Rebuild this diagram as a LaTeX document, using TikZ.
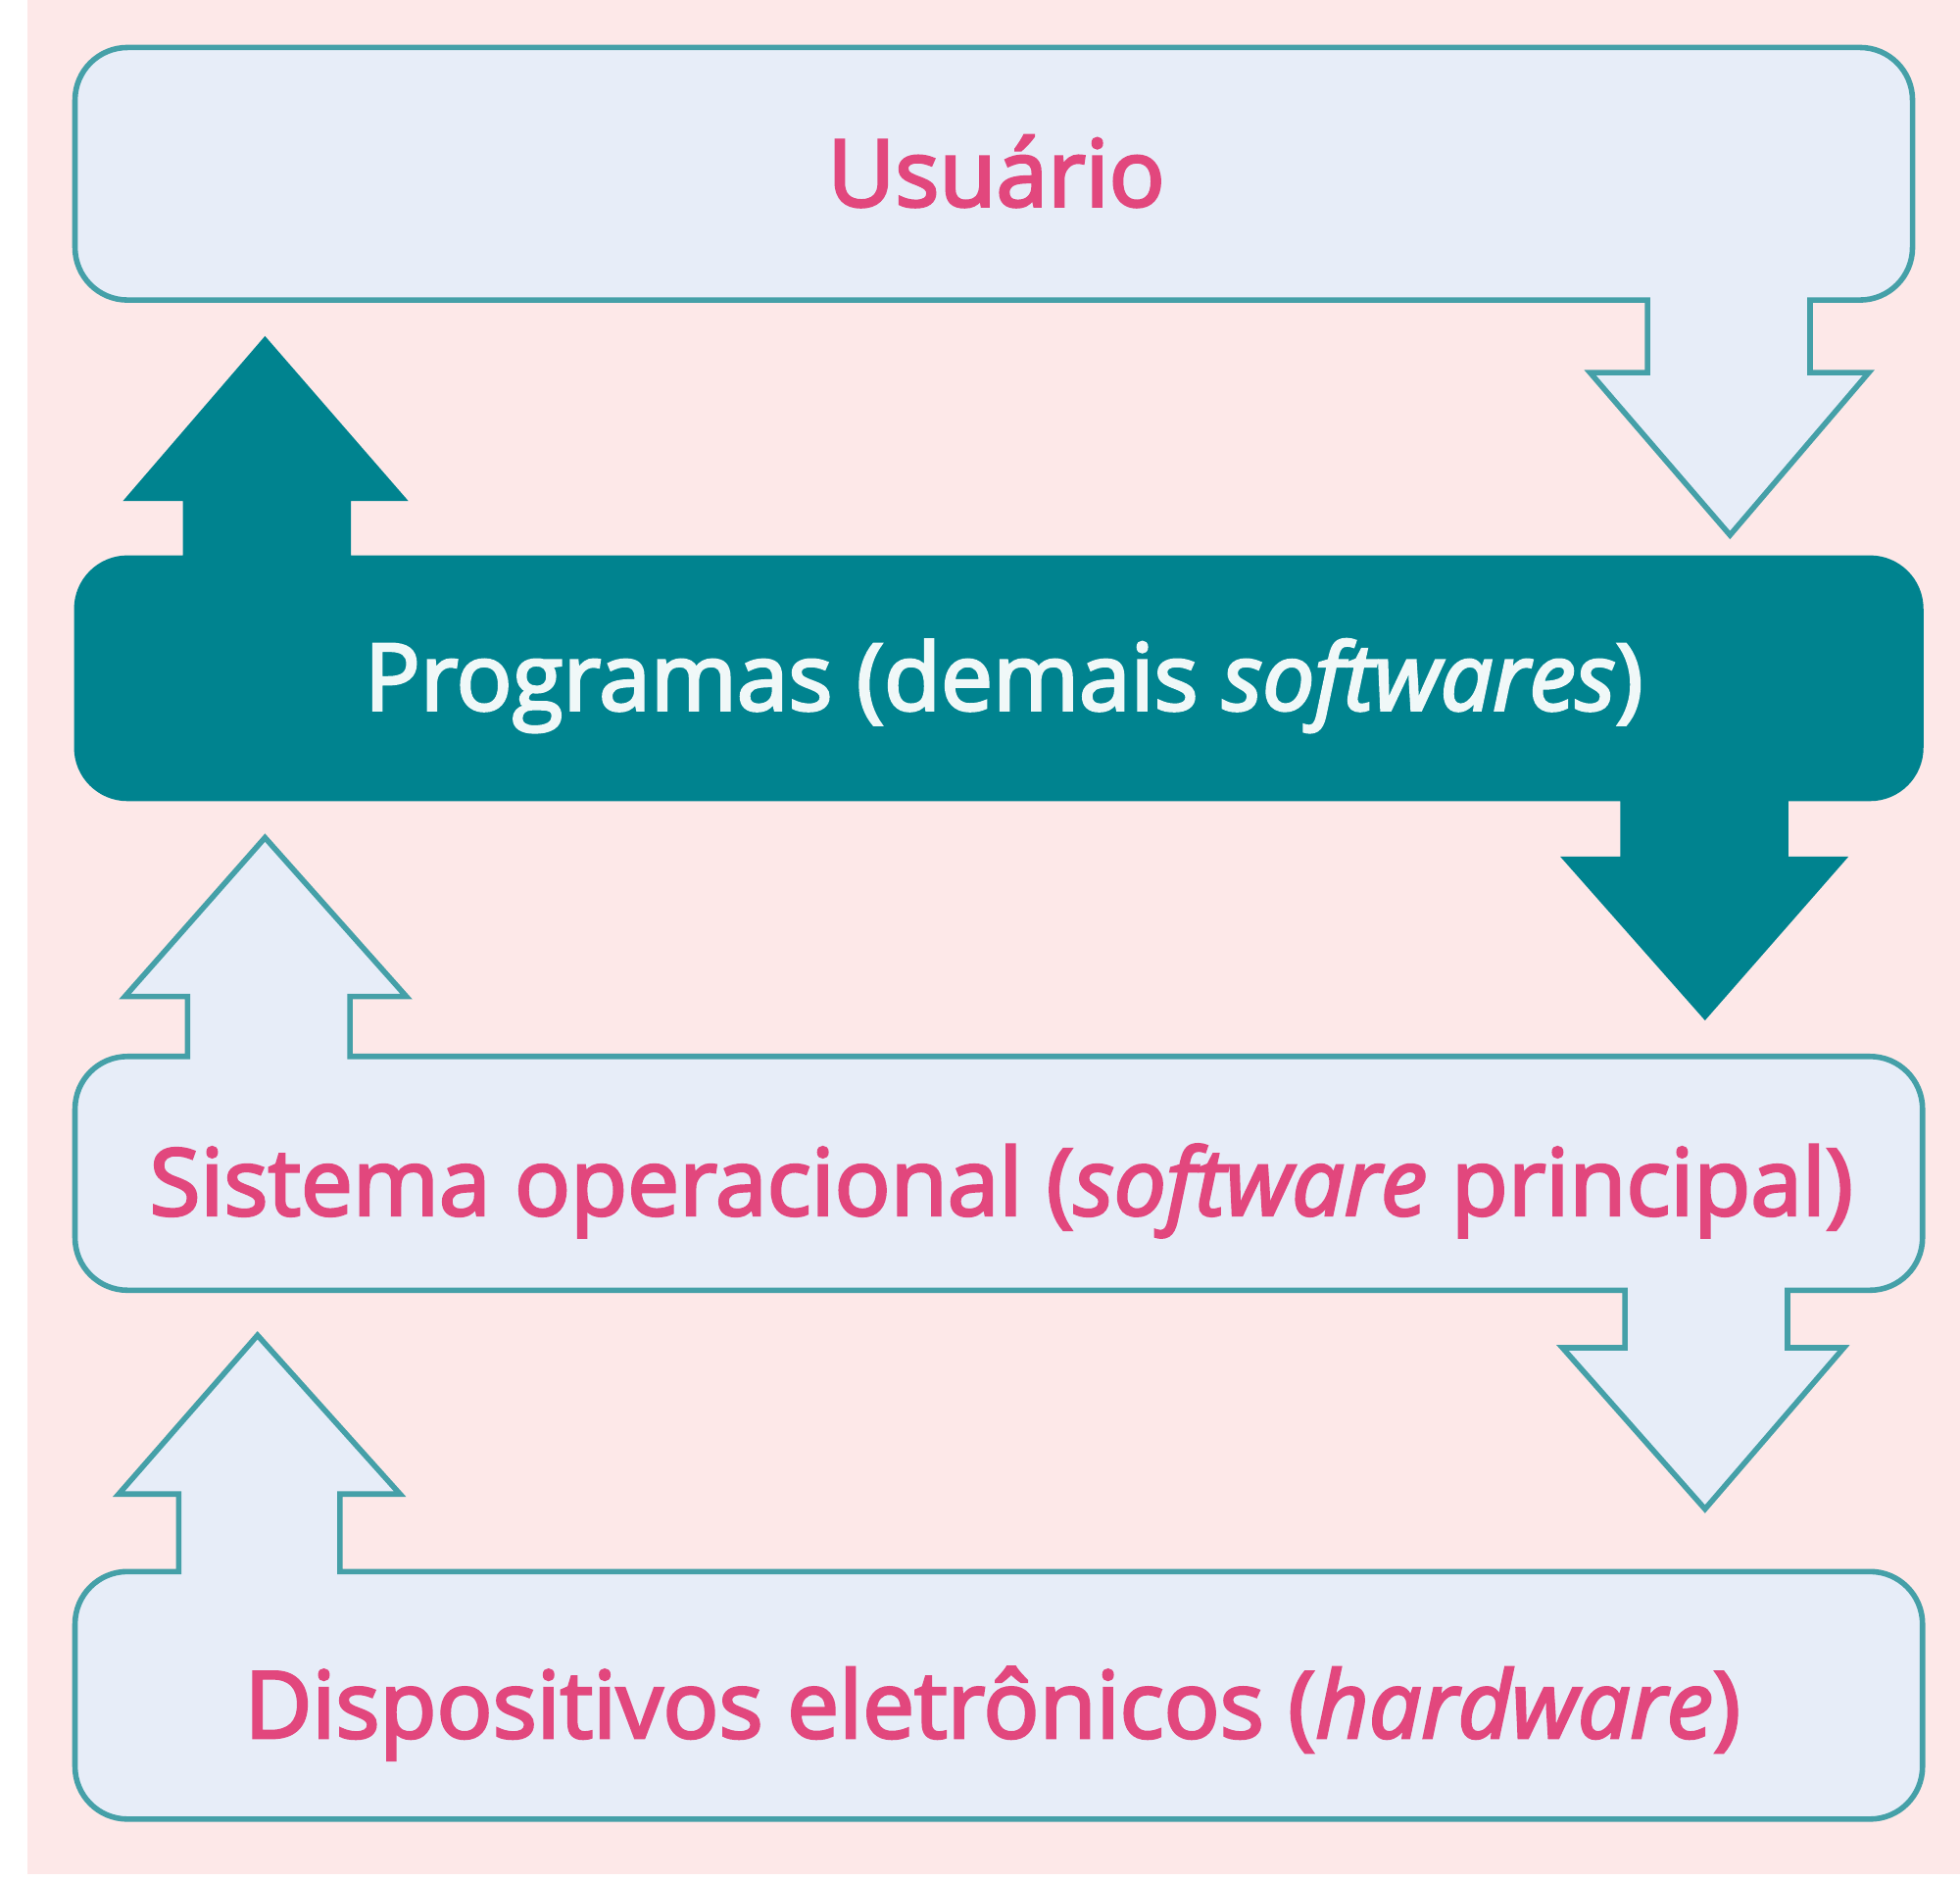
\documentclass[tikz,border=0pt]{standalone}
\usepackage{fontspec}
\setmainfont{Open Sans}[FakeBold=3]
\definecolor{bgpink}{HTML}{FDE8E8}
\definecolor{boxfill}{HTML}{E7EDF8}
\definecolor{edgeteal}{HTML}{45A0A8}
\definecolor{darkteal}{HTML}{00838F}
\definecolor{txtpink}{HTML}{E2477D}
\definecolor{txtwhite}{HTML}{F0F8F8}
\tikzset{
  lightshape/.style={draw=edgeteal, fill=boxfill, line width=2.8pt, line join=miter},
  darkshape/.style={draw=darkteal, fill=darkteal, line width=1pt},
  pinklabel/.style={text=txtpink, anchor=base, inner sep=0pt, font=\fontsize{47.3}{50}\selectfont},
  whitelabel/.style={text=txtwhite, anchor=base, inner sep=0pt, font=\fontsize{47.3}{50}\selectfont},
}
\begin{document}
\begin{tikzpicture}[x=0.6378pt, y=0.6378pt]
\def\R{42}
% canvas
\fill[white] (0,0) rectangle (1568,1504);
\useasboundingbox (0,0) rectangle (1568,1504);
\fill[bgpink] (22,5) rectangle (1568,1504);
% Usuario box + down arrow
\draw[lightshape] (60+\R,1466) -- (1530-\R,1466) arc[start angle=90,end angle=0,radius=\R]
  -- (1530,1264+\R) arc[start angle=0,end angle=-90,radius=\R]
  -- (1448,1264) -- (1448,1206) -- (1495,1206) -- (1384,1076) -- (1272,1206) -- (1318,1206) -- (1318,1264)
  -- (60+\R,1264) arc[start angle=270,end angle=180,radius=\R]
  -- (60,1466-\R) arc[start angle=180,end angle=90,radius=\R] -- cycle;
% Programas box + arrows
\draw[darkshape] (60+\R,1059) -- (147,1059) -- (147,1104) -- (100,1104) -- (212,1234) -- (325,1104) -- (280,1104) -- (280,1059)
  -- (1538-\R,1059) arc[start angle=90,end angle=0,radius=\R]
  -- (1538,864+\R) arc[start angle=0,end angle=-90,radius=\R]
  -- (1430,864) -- (1430,818) -- (1477,818) -- (1364,689) -- (1250,818) -- (1297,818) -- (1297,864)
  -- (60+\R,864) arc[start angle=270,end angle=180,radius=\R]
  -- (60,1059-\R) arc[start angle=180,end angle=90,radius=\R] -- cycle;
% Sistema box + arrows
\draw[lightshape] (60+\R,659) -- (150,659) -- (150,707) -- (100,707) -- (212,834) -- (325,707) -- (280,707) -- (280,659)
  -- (1538-\R,659) arc[start angle=90,end angle=0,radius=\R]
  -- (1538,472+\R) arc[start angle=0,end angle=-90,radius=\R]
  -- (1430,472) -- (1430,426) -- (1475,426) -- (1364,297) -- (1250,426) -- (1300,426) -- (1300,472)
  -- (60+\R,472) arc[start angle=270,end angle=180,radius=\R]
  -- (60,659-\R) arc[start angle=180,end angle=90,radius=\R] -- cycle;
% Dispositivos box + up arrow
\draw[lightshape] (60+\R,247) -- (143,247) -- (143,309) -- (95,309) -- (206,436) -- (320,309) -- (272,309) -- (272,247)
  -- (1538-\R,247) arc[start angle=90,end angle=0,radius=\R]
  -- (1538,49+\R) arc[start angle=0,end angle=-90,radius=\R]
  -- (60+\R,49) arc[start angle=270,end angle=180,radius=\R]
  -- (60,247-\R) arc[start angle=180,end angle=90,radius=\R] -- cycle;
% labels
\node[pinklabel] (usuario) at (797,1339) {Usuário};
\node[whitelabel] (programas) at (803,936) {Programas (demais \textit{softwares})};
\node[pinklabel] (sistema) at (801,532) {Sistema operacional (\textit{software} principal)};
\node[pinklabel] (dispositivos) at (794,114) {Dispositivos eletrônicos (\textit{hardware})};
\end{tikzpicture}
\end{document}
